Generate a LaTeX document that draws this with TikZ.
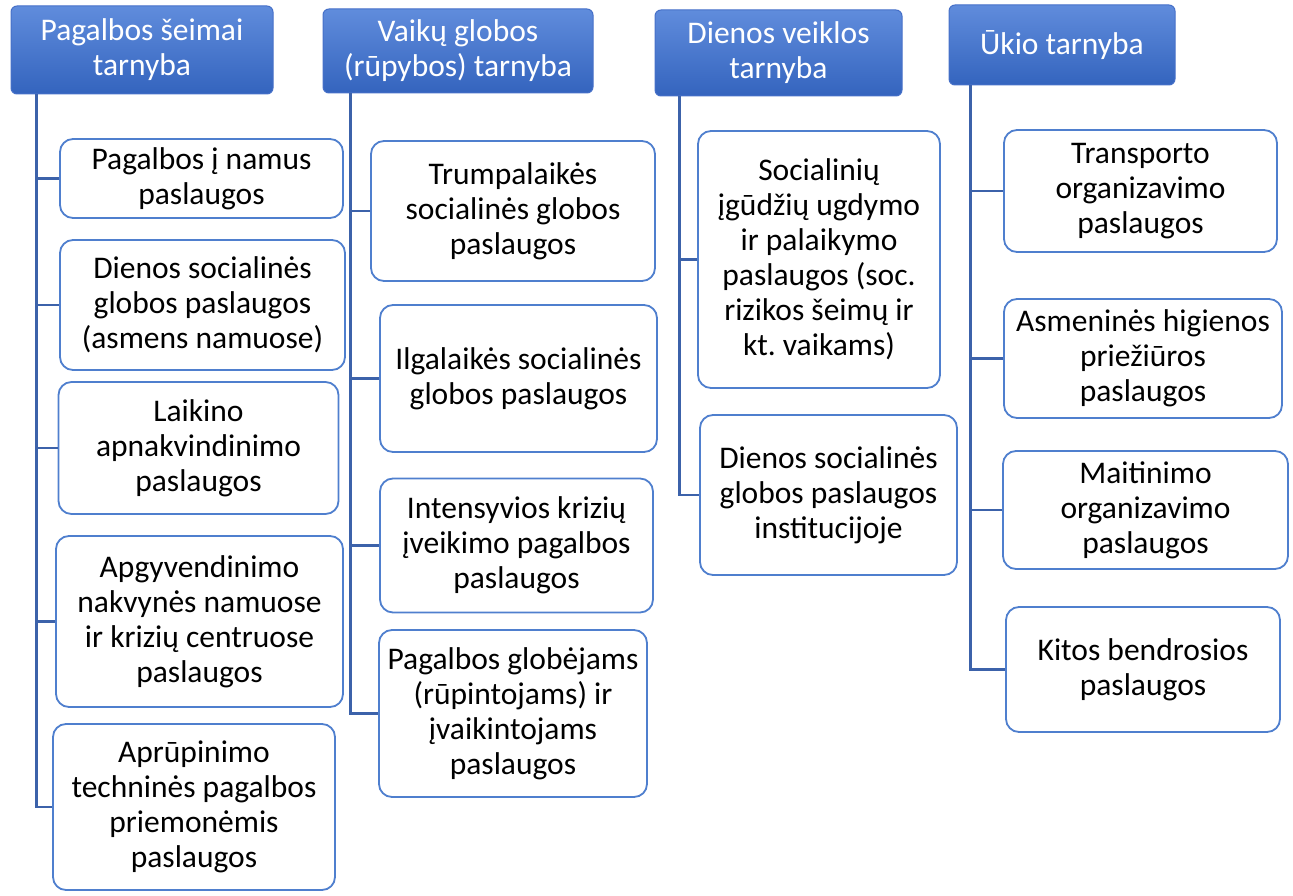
\documentclass[tikz,border=0pt]{standalone}
\usepackage{fontspec}
\setmainfont{Carlito}
\usetikzlibrary{calc}
\frenchspacing
\definecolor{hdrtop}{RGB}{96,140,220}
\definecolor{hdrbot}{RGB}{52,100,190}
\definecolor{hdrline}{RGB}{70,112,200}
\definecolor{boxline}{RGB}{79,127,206}
\definecolor{trunk}{RGB}{60,98,170}
\begin{document}
\begin{tikzpicture}[x=1pt,y=-1pt,
  hdr/.style={draw=hdrline, line width=1pt, rounded corners=6pt, top color=hdrtop, bottom color=hdrbot,
    text=white, align=center, inner sep=0pt, font=\fontsize{31.5}{35}\selectfont},
  leaf/.style={draw=boxline, line width=1.8pt, rounded corners=13pt, fill=white, text=black,
    align=center, inner sep=0pt, font=\fontsize{31.5}{35}\selectfont},
  conn/.style={draw=trunk, line width=2.6pt}]
\useasboundingbox (0,0) rectangle (1293,896);

% headers
\node[hdr, minimum width=262pt, minimum height=88pt] (h1) at (142,50) {Pagalbos šeimai\\tarnyba};
\node[hdr, minimum width=270pt, minimum height=84pt] (h2) at (458,51) {Vaikų globos\\(rūpybos) tarnyba};
\node[hdr, minimum width=247pt, minimum height=86pt] (h3) at (778.5,53) {Dienos veiklos\\tarnyba};
\node[hdr, minimum width=226pt, minimum height=80pt] (h4) at (1062,45) {Ūkio tarnyba};

% column 1
\node[leaf, minimum width=283pt, minimum height=79pt] (c11) at (201.5,178.5) {Pagalbos į namus\\paslaugos};
\node[leaf, minimum width=285pt, minimum height=130pt] (c12) at (202.5,305) {Dienos socialinės\\globos paslaugos\\(asmens namuose)};
\node[leaf, minimum width=280pt, minimum height=132pt] (c13) at (198.5,448) {Laikino\\apnakvindinimo\\paslaugos};
\node[leaf, minimum width=287pt, minimum height=171pt] (c14) at (199.5,621.5) {Apgyvendinimo\\nakvynės namuose\\ir krizių centruose\\paslaugos};
\node[leaf, minimum width=282pt, minimum height=166pt] (c15) at (194,807) {Aprūpinimo\\techninės pagalbos\\priemonėmis\\paslaugos};

% column 2
\node[leaf, minimum width=284pt, minimum height=140pt] (c21) at (513,211) {Trumpalaikės\\socialinės globos\\paslaugos};
\node[leaf, minimum width=277pt, minimum height=147pt] (c22) at (518.5,378.5) {Ilgalaikės socialinės\\globos paslaugos};
\node[leaf, minimum width=273pt, minimum height=134pt] (c23) at (516.5,545.5) {Intensyvios krizių\\įveikimo pagalbos\\paslaugos};
\node[leaf, minimum width=268pt, minimum height=167pt] (c24) at (513,713.5) {Pagalbos globėjams\\(rūpintojams) ir\\įvaikintojams\\paslaugos};

% column 3
\node[leaf, minimum width=242pt, minimum height=257pt] (c31) at (819,259.5) {Socialinių\\įgūdžių ugdymo\\ir palaikymo\\paslaugos (soc.\\rizikos šeimų ir\\kt. vaikams)};
\node[leaf, minimum width=257pt, minimum height=160pt] (c32) at (828.5,495) {Dienos socialinės\\globos paslaugos\\institucijoje};

% column 4
\node[leaf, minimum width=273pt, minimum height=122pt] (c41) at (1140.5,191) {Transporto\\organizavimo\\paslaugos};
\node[leaf, minimum width=278pt, minimum height=119pt] (c42) at (1143,358.5) {Asmeninės higienos\\priežiūros\\paslaugos};
\node[leaf, minimum width=285pt, minimum height=118pt] (c43) at (1145.5,510) {Maitinimo\\organizavimo\\paslaugos};
\node[leaf, minimum width=274pt, minimum height=125pt] (c44) at (1143,669.5) {Kitos bendrosios\\paslaugos};

% trunks
\coordinate (t1) at ($(h1.south west)+(26,0)$);
\coordinate (t2) at ($(h2.south west)+(28,0)$);
\coordinate (t3) at ($(h3.south west)+(25,0)$);
\coordinate (t4) at ($(h4.south west)+(22,0)$);

\draw[conn] (t1) |- (c15.west);
\draw[conn] (c11.west) -- (c11.west -| t1);
\draw[conn] (c12.west) -- (c12.west -| t1);
\draw[conn] (c13.west) -- (c13.west -| t1);
\draw[conn] (c14.west) -- (c14.west -| t1);

\draw[conn] (t2) |- (c24.west);
\draw[conn] (c21.west) -- (c21.west -| t2);
\draw[conn] (c22.west) -- (c22.west -| t2);
\draw[conn] (c23.west) -- (c23.west -| t2);

\draw[conn] (t3) |- (c32.west);
\draw[conn] (c31.west) -- (c31.west -| t3);

\draw[conn] (t4) |- (c44.west);
\draw[conn] (c41.west) -- (c41.west -| t4);
\draw[conn] (c42.west) -- (c42.west -| t4);
\draw[conn] (c43.west) -- (c43.west -| t4);
\end{tikzpicture}
\end{document}
